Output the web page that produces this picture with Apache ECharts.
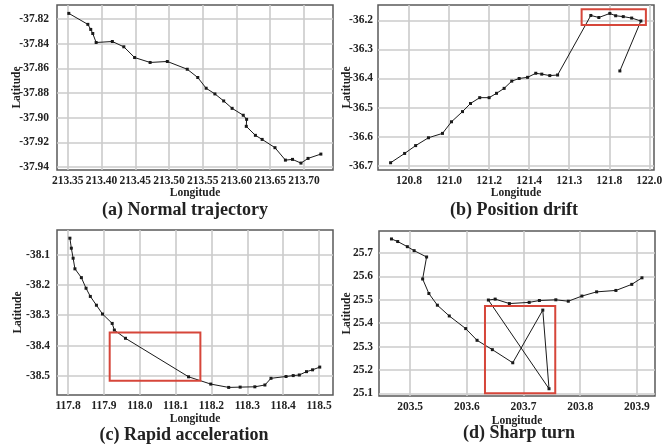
<!DOCTYPE html>
<html>
<head>
<meta charset="utf-8">
<script src="https://cdn.jsdelivr.net/npm/echarts@6/dist/echarts.min.js"></script>
<style>
  html, body { margin: 0; padding: 0; background: #fff; }
  #chart { width: 667px; height: 447px; }
</style>
</head>
<body>
<div id="chart"></div>
<script>
// (a) normal trajectory
const lonA = [213.3515, 213.3797, 213.384, 213.387, 213.392, 213.416, 213.433, 213.449, 213.472, 213.4975,
    213.527, 213.5426, 213.555, 213.568, 213.581, 213.5935, 213.610, 213.615, 213.6145, 213.628,
    213.638, 213.657, 213.6725, 213.683, 213.6955, 213.706, 213.725];
const latA = [-37.8154, -37.8243, -37.8284, -37.8317, -37.839, -37.8382, -37.8425, -37.8512, -37.8552, -37.8544,
    -37.8607, -37.8674, -37.8761, -37.8807, -37.8864, -37.8924, -37.898, -37.9013, -37.907, -37.9143,
    -37.9176, -37.9243, -37.9344, -37.9338, -37.9368, -37.933, -37.9295];
const xTicksA = [213.35, 213.40, 213.45, 213.50, 213.55, 213.60, 213.65, 213.70];
const yTicksA = [-37.82, -37.84, -37.86, -37.88, -37.90, -37.92, -37.94];

// (b) position drift
const lonB = [120.708, 120.778, 120.833, 120.897, 120.967, 121.012, 121.067, 121.107, 121.153, 121.200,
    121.237, 121.275, 121.313, 121.350, 121.392, 121.433, 121.463, 121.503, 121.542, 121.708,
    121.748, 121.803, 121.832, 121.870, 121.912, 121.958, 121.853];
const latB = [-36.690, -36.658, -36.631, -36.604, -36.589, -36.549, -36.514, -36.486, -36.466, -36.466,
    -36.451, -36.434, -36.409, -36.400, -36.396, -36.382, -36.385, -36.390, -36.388, -36.183,
    -36.190, -36.176, -36.184, -36.187, -36.192, -36.202, -36.374];
const xTicksB = [120.8, 121.0, 121.2, 121.4, 121.6, 121.8, 122.0];
const xLabelsB = ['120.8', '121.0', '121.2', '121.4', '121.3', '121.8', '122.0'];
const yTicksB = [-36.2, -36.3, -36.4, -36.5, -36.6, -36.7];
const boxB = [121.662, -36.162, 121.983, -36.216];

// (c) rapid acceleration
const lonC = [117.805, 117.809, 117.814, 117.819, 117.837, 117.850, 117.862, 117.879, 117.896, 117.923,
    117.929, 117.960, 118.136, 118.198, 118.248, 118.280, 118.321, 118.349, 118.366, 118.408,
    118.428, 118.445, 118.465, 118.482, 118.502];
const latC = [-38.046, -38.079, -38.112, -38.147, -38.176, -38.211, -38.238, -38.267, -38.296, -38.327,
    -38.349, -38.376, -38.503, -38.527, -38.538, -38.537, -38.536, -38.530, -38.508, -38.502,
    -38.499, -38.497, -38.486, -38.480, -38.471];
const xTicksC = [117.8, 117.9, 118.0, 118.1, 118.2, 118.3, 118.4, 118.5];
const yTicksC = [-38.1, -38.2, -38.3, -38.4, -38.5];
const boxC = [117.916, -38.357, 118.169, -38.516];

// (d) sharp turn
const lonD = [203.467, 203.478, 203.495, 203.507, 203.529, 203.522, 203.533, 203.548, 203.569, 203.598,
    203.618, 203.645, 203.681, 203.734, 203.745, 203.638, 203.650, 203.675, 203.710, 203.728,
    203.757, 203.779, 203.803, 203.829, 203.863, 203.891, 203.909];
const latD = [25.760, 25.749, 25.727, 25.710, 25.683, 25.589, 25.527, 25.477, 25.431, 25.377,
    25.327, 25.287, 25.231, 25.456, 25.120, 25.499, 25.503, 25.484, 25.489, 25.497,
    25.500, 25.494, 25.516, 25.534, 25.540, 25.566, 25.594];
const xTicksD = [203.5, 203.6, 203.7, 203.8, 203.9];
const yTicksD = [25.7, 25.6, 25.5, 25.4, 25.3, 25.2, 25.1];
const boxD = [203.632, 25.474, 203.756, 25.101];

const titles = ['(a) Normal trajectory', '(b) Position drift', '(c) Rapid acceleration', '(d) Sharp turn'];

const FONT = '"Liberation Serif", "Times New Roman", serif';
const TXT = '#222';

function pairs(xs, ys) {
    return xs.map((x, i) => [x, ys[i]]);
}

function xAxisOf(idx, min, max, ticks, fmt, gap) {
    return {
        type: 'value', gridIndex: idx, min: min, max: max,
        name: 'Longitude', nameLocation: 'middle', nameGap: gap, nameMoveOverlap: false,
        nameTextStyle: { fontFamily: FONT, fontWeight: 'bold', fontSize: 11.5, color: TXT },
        axisLine: { show: false },
        axisTick: { show: false, customValues: ticks },
        axisLabel: { customValues: ticks, formatter: fmt, margin: 5,
            fontFamily: FONT, fontWeight: 'bold', fontSize: 11.5, color: TXT },
        splitLine: { show: false }
    };
}

function yAxisOf(idx, min, max, ticks, fmt, gap, margin) {
    return {
        type: 'value', gridIndex: idx, min: min, max: max,
        name: 'Latitude', nameLocation: 'middle', nameGap: gap, nameRotate: 90, nameMoveOverlap: false,
        nameTextStyle: { fontFamily: FONT, fontWeight: 'bold', fontSize: 11.5, color: TXT },
        axisLine: { show: false },
        axisTick: { show: false, customValues: ticks },
        axisLabel: { customValues: ticks, formatter: fmt, margin: margin,
            fontFamily: FONT, fontWeight: 'bold', fontSize: 11.5, color: TXT },
        splitLine: { show: false }
    };
}

// light grey grid lines at the tick values, drawn under the track
function gridLines(xTicks, yTicks) {
    return {
        silent: true, symbol: ['none', 'none'], label: { show: false },
        animation: false, z: 1,
        lineStyle: { color: '#cbcbcb', width: 1.6, type: 'solid', opacity: 1 },
        emphasis: { disabled: true },
        data: xTicks.map(v => ({ xAxis: v })).concat(yTicks.map(v => ({ yAxis: v })))
    };
}

function trackSeries(idx, data, xTicks, yTicks, box) {
    const s = {
        type: 'line', xAxisIndex: idx, yAxisIndex: idx, data: data, z: 3,
        symbol: 'rect', symbolSize: 3, showSymbol: true,
        lineStyle: { color: '#1a1a1a', width: 1 },
        itemStyle: { color: '#1a1a1a' },
        emphasis: { disabled: true },
        markLine: gridLines(xTicks, yTicks)
    };
    if (box) {
        s.markArea = {
            silent: true, z: 4,
            itemStyle: { color: 'rgba(0,0,0,0)', borderColor: '#d6463a', borderWidth: 2 },
            data: [[{ coord: [box[0], box[1]] }, { coord: [box[2], box[3]] }]]
        };
    }
    return s;
}

const f2 = v => v.toFixed(2);
const f1 = v => v.toFixed(1);
const fB = v => {
    const i = xTicksB.findIndex(t => Math.abs(t - v) < 1e-6);
    return i >= 0 ? xLabelsB[i] : v.toFixed(1);
};

const gridStyle = { show: true, borderColor: '#5a5a5a', borderWidth: 1.5 };

const chart = echarts.init(document.getElementById('chart'));
const option = {
    animation: false,
    backgroundColor: '#fff',
    title: [
        { text: titles[0], left: 185, top: 201 },
        { text: titles[1], left: 514, top: 201 },
        { text: titles[2], left: 184, top: 426 },
        { text: titles[3], left: 519, top: 424 }
    ].map(t => Object.assign(t, {
        textAlign: 'center', padding: 0,
        textStyle: { fontFamily: FONT, fontWeight: 'bold', fontSize: 18, color: TXT }
    })),
    grid: [
        Object.assign({ left: 57, top: 5, width: 276, height: 165 }, gridStyle),
        Object.assign({ left: 378, top: 5, width: 276, height: 165 }, gridStyle),
        Object.assign({ left: 57, top: 230, width: 276, height: 165 }, gridStyle),
        Object.assign({ left: 379, top: 231, width: 276, height: 165 }, gridStyle)
    ],
    xAxis: [
        xAxisOf(0, 213.334, 213.743, xTicksA, f2, 17),
        xAxisOf(1, 120.645, 122.0235, xTicksB, fB, 17),
        xAxisOf(2, 117.769, 118.539, xTicksC, f1, 18),
        xAxisOf(3, 203.445, 203.932, xTicksD, f1, 19)
    ],
    yAxis: [
        yAxisOf(0, -37.9424, -37.8086, yTicksA, f2, 34, 8),
        yAxisOf(1, -36.715, -36.147, yTicksB, f1, 25, 5),
        yAxisOf(2, -38.563, -38.019, yTicksC, f1, 33, 7),
        yAxisOf(3, 25.089, 25.794, yTicksD, f1, 26, 6)
    ],
    series: [
        trackSeries(0, pairs(lonA, latA), xTicksA, yTicksA, null),
        trackSeries(1, pairs(lonB, latB), xTicksB, yTicksB, boxB),
        trackSeries(2, pairs(lonC, latC), xTicksC, yTicksC, boxC),
        trackSeries(3, pairs(lonD, latD), xTicksD, yTicksD, boxD)
    ]
};
chart.setOption(option);
</script>
</body>
</html>
